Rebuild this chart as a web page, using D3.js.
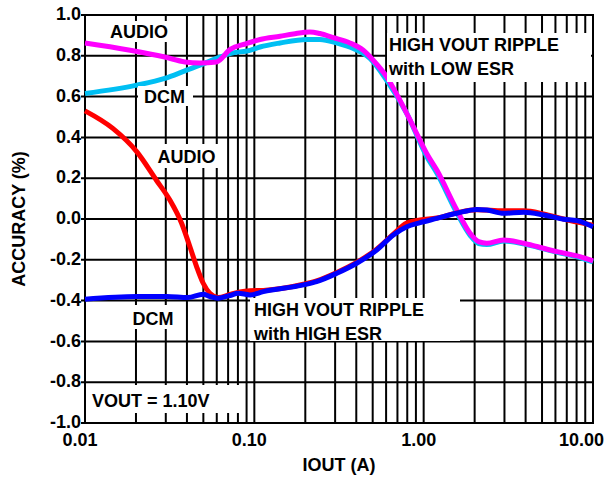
<!DOCTYPE html>
<html lang="en">
<head>
<meta charset="UTF-8">
<title>Accuracy vs IOUT</title>
<script src="https://cdn.jsdelivr.net/npm/d3@7"></script>
<style>
  body { margin: 0; background: #fff; }
  text { font-family: "Liberation Sans", Arial, sans-serif; font-weight: bold; fill: #000; }
</style>
</head>
<body>
<svg width="607" height="480"></svg>
<script>
// tick values and labels
var xTicks = [0.01, 0.1, 1, 10]
var xTickLabels = ["0.01", "0.10", "1.00", "10.00"]
var yTicks = [-1, -0.8, -0.6, -0.4, -0.2, 0, 0.2, 0.4, 0.6, 0.8, 1]
var yTickLabels = ["-1.0", "-0.8", "-0.6", "-0.4", "-0.2", "0.0", "0.2", "0.4", "0.6", "0.8", "1.0"]

// AUDIO, high vout ripple with low ESR (magenta)
var audioLowX = [0.01, 0.0296, 0.0389, 0.0477, 0.0598, 0.0717, 0.09, 0.108, 0.142, 0.170, 0.213, 0.244, 0.293, 0.367, 0.44, 0.504, 0.605, 0.726, 0.87, 1.044, 1.196, 1.57, 1.88, 2.11, 2.36, 2.96, 3.89, 4.67, 6.13, 8.04, 10]
var audioLowY = [0.863, 0.794, 0.77, 0.765, 0.77, 0.83, 0.86, 0.88, 0.896, 0.907, 0.917, 0.909, 0.889, 0.863, 0.827, 0.778, 0.697, 0.58, 0.452, 0.32, 0.24, 0.044, -0.07, -0.111, -0.119, -0.103, -0.119, -0.135, -0.16, -0.181, -0.205]

// DCM, high vout ripple with low ESR (cyan)
var dcmLowX = [0.01, 0.0202, 0.0296, 0.0389, 0.0477, 0.0598, 0.0717, 0.0942, 0.108, 0.142, 0.204, 0.244, 0.307, 0.384, 0.482, 0.605, 0.795, 1.044, 1.196, 1.57, 1.88, 2.11, 2.36, 2.96, 3.89, 4.67, 6.13, 8.04, 10]
var dcmLowY = [0.615, 0.656, 0.689, 0.726, 0.754, 0.787, 0.811, 0.827, 0.843, 0.863, 0.88, 0.88, 0.863, 0.836, 0.787, 0.68, 0.517, 0.305, 0.225, 0.03, -0.08, -0.12, -0.125, -0.108, -0.122, -0.138, -0.163, -0.185, -0.21]

// AUDIO, high vout ripple with high ESR (red)
var audioHighX = [0.01, 0.0146, 0.0202, 0.0264, 0.0317, 0.0372, 0.0416, 0.0456, 0.0499, 0.0546, 0.0612, 0.0717, 0.0822, 0.0942, 0.113, 0.195, 0.233, 0.307, 0.402, 0.528, 0.662, 0.795, 0.953, 1.196, 1.57, 2.06, 2.96, 3.89, 5.1, 6.7, 8.04, 10]
var audioHighY = [0.53, 0.444, 0.33, 0.19, 0.093, -0.021, -0.135, -0.233, -0.315, -0.364, -0.385, -0.37, -0.358, -0.352, -0.35, -0.32, -0.303, -0.262, -0.213, -0.148, -0.074, -0.02, -0.005, 0.005, 0.03, 0.045, 0.04, 0.04, 0.025, 0.0, -0.015, -0.03]

// DCM, high vout ripple with high ESR (blue)
var dcmHighX = [0.01, 0.0202, 0.0304, 0.0405, 0.0499, 0.0546, 0.0612, 0.0717, 0.0803, 0.0942, 0.113, 0.195, 0.233, 0.307, 0.402, 0.528, 0.662, 0.795, 0.953, 1.196, 1.57, 2.06, 2.36, 2.96, 3.89, 5.1, 6.7, 8.04, 10]
var dcmHighY = [-0.393, -0.38, -0.38, -0.385, -0.369, -0.38, -0.388, -0.375, -0.364, -0.372, -0.356, -0.323, -0.307, -0.266, -0.217, -0.152, -0.078, -0.038, -0.018, 0.003, 0.028, 0.047, 0.044, 0.028, 0.033, 0.02, -0.001, -0.008, -0.038]

var svg = d3.select("svg")
var W = +svg.attr("width"), H = +svg.attr("height")
var margin = {top: 15, right: 14, bottom: 57, left: 85}
var iw = W - margin.left - margin.right
var ih = H - margin.top - margin.bottom

var x = d3.scaleLog().domain([0.01, 10]).range([0, iw])
var y = d3.scaleLinear().domain([-1, 1]).range([ih, 0])

var g = svg.append("g").attr("transform", `translate(${margin.left},${margin.top})`)

// grid
g.append("g").selectAll("line").data(x.ticks()).enter().append("line")
    .attr("x1", d => x(d)).attr("x2", d => x(d))
    .attr("y1", 0).attr("y2", ih)
    .attr("stroke", "#000").attr("stroke-width", 2)
g.append("g").selectAll("line").data(yTicks).enter().append("line")
    .attr("x1", -4).attr("x2", iw)
    .attr("y1", d => y(d)).attr("y2", d => y(d))
    .attr("stroke", "#000").attr("stroke-width", 2)

// white boxes behind the labels (absolute px, box = [x0, y0, x1, y1])
var notes = [
    {lines: ["AUDIO"], x: 110, y: 37.5, box: [104, 21, 175, 42]},
    {lines: ["DCM"], x: 144, y: 102.5, box: [138, 86, 193, 106]},
    {lines: ["AUDIO"], x: 157.5, y: 162.5, box: [152, 144, 222, 168]},
    {lines: ["HIGH VOUT RIPPLE", "with LOW ESR"], x: 389, y: 51, box: [387, 33, 591, 82]},
    {lines: ["HIGH VOUT RIPPLE", "with HIGH ESR"], x: 254, y: 316, box: [250, 298, 460, 341]},
    {lines: ["DCM"], x: 132.5, y: 325, box: [128, 305, 181, 329]},
    {lines: ["VOUT = 1.10V"], x: 92, y: 407, box: [86, 385, 243, 413]}
]
svg.append("g").selectAll("rect").data(notes).enter().append("rect")
    .attr("x", d => d.box[0]).attr("y", d => d.box[1])
    .attr("width", d => d.box[2] - d.box[0]).attr("height", d => d.box[3] - d.box[1])
    .attr("fill", "#fff")

// frame
g.append("rect").attr("width", iw).attr("height", ih)
    .attr("fill", "none").attr("stroke", "#000").attr("stroke-width", 2)

// curves
var series = [
    {xs: dcmLowX, ys: dcmLowY, color: "#00bff3"},
    {xs: audioLowX, ys: audioLowY, color: "#ff00ff"},
    {xs: audioHighX, ys: audioHighY, color: "#ff0000"},
    {xs: dcmHighX, ys: dcmHighY, color: "#0000ff"}
]
var line = d3.line().x(d => x(d[0])).y(d => y(d[1])).curve(d3.curveMonotoneX)
g.append("g").selectAll("path").data(series).enter().append("path")
    .attr("d", d => line(d.xs.map((v, i) => [v, d.ys[i]])))
    .attr("fill", "none")
    .attr("stroke", d => d.color)
    .attr("stroke-width", 5)
    .attr("stroke-linejoin", "round")

// label text
var nt = svg.append("g").selectAll("text").data(notes).enter().append("text")
    .attr("x", d => d.x).attr("y", d => d.y)
    .style("font-size", "18px")
nt.selectAll("tspan").data(d => d.lines.map((s, i) => ({s: s, i: i, x: d.x}))).enter().append("tspan")
    .attr("x", d => d.x).attr("dy", d => d.i ? 23.5 : 0)
    .text(d => d.s)

// tick labels
g.append("g").selectAll("text").data(yTicks).enter().append("text")
    .attr("x", -4).attr("y", d => y(d)).attr("dy", "0.29em")
    .attr("text-anchor", "end").style("font-size", "18px")
    .text((d, i) => yTickLabels[i])
g.append("g").selectAll("text").data(xTicks).enter().append("text")
    .attr("x", (d, i) => i === xTicks.length - 1 ? x(d) + 11 : x(d) - 5)
    .attr("y", ih + 23)
    .attr("text-anchor", (d, i) => i === xTicks.length - 1 ? "end" : "middle")
    .style("font-size", "18px")
    .text((d, i) => xTickLabels[i])

// axis titles
svg.append("text").attr("x", margin.left + iw / 2).attr("y", 471)
    .attr("text-anchor", "middle").style("font-size", "18px").text("IOUT (A)")
svg.append("text").attr("transform", `translate(25,${margin.top + ih / 2}) rotate(-90)`)
    .attr("text-anchor", "middle").style("font-size", "18px").text("ACCURACY (%)")
</script>
</body>
</html>
